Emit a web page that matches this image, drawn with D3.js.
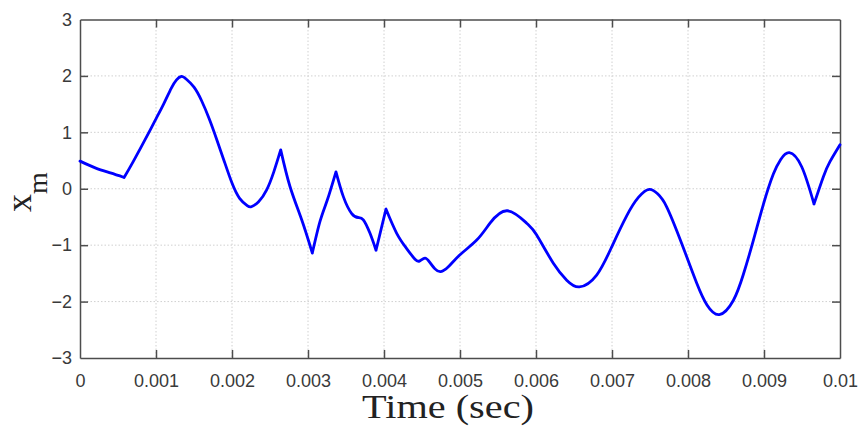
<!DOCTYPE html>
<html>
<head>
<meta charset="utf-8">
<script src="https://cdn.jsdelivr.net/npm/d3@7"></script>
<style>
  html, body { margin: 0; padding: 0; background: #fff; }
  svg { display: block; }
</style>
</head>
<body>
<svg id="chart" width="859" height="427"></svg>
<script>
// Time samples (sec) and x_m response
const timeSec = [
  0, 0.0002, 0.0004, 0.00058,
  0.0007, 0.0009, 0.001, 0.0011, 0.0012, 0.00127, 0.001333, 0.0014, 0.0015, 0.0016, 0.0017,
  0.0018, 0.0019, 0.002, 0.0021, 0.0022, 0.002254, 0.00235, 0.002456, 0.00255, 0.002641,
  0.002763, 0.002917, 0.003057,
  0.003158, 0.003254, 0.003368,
  0.003465, 0.003575, 0.003662, 0.003728, 0.003816, 0.003895,
  0.004026,
  0.004167, 0.004298, 0.004408, 0.00447, 0.004539, 0.0046, 0.004671, 0.004746, 0.00485,
  0.005, 0.00522, 0.005395, 0.005623, 0.005877, 0.006009, 0.006228, 0.006404, 0.00657,
  0.006798, 0.007, 0.007193, 0.00735, 0.007491, 0.0076, 0.007719, 0.007917, 0.008114, 0.00825,
  0.008412, 0.008596, 0.008728, 0.008859, 0.008991, 0.009123, 0.00922, 0.009333, 0.009496,
  0.009658, 0.00978, 0.009868, 0.01
];
const xmValues = [
  0.49, 0.37, 0.28, 0.20,
  0.48, 0.98, 1.24, 1.50, 1.78, 1.93, 1.99, 1.94, 1.80, 1.56, 1.24,
  0.87, 0.48, 0.10, -0.17, -0.30, -0.32, -0.23, -0.02, 0.30, 0.69,
  0.04, -0.55, -1.14,
  -0.58, -0.20, 0.30,
  -0.14, -0.44, -0.51, -0.55, -0.79, -1.09,
  -0.36,
  -0.79, -1.06, -1.25, -1.28, -1.23, -1.30, -1.42, -1.47, -1.38,
  -1.17, -0.91, -0.61, -0.39, -0.61, -0.82, -1.32, -1.62, -1.74,
  -1.53, -1.02, -0.48, -0.15, -0.01, -0.09, -0.32, -0.97, -1.67, -2.06,
  -2.23, -1.98, -1.52, -0.92, -0.28, 0.26, 0.52, 0.64, 0.39,
  -0.27, 0.21, 0.48, 0.78
];
// Sample times where the response has a sharp corner
const cornerTimes = [0.00058, 0.002641, 0.003057, 0.003368, 0.003895, 0.004026, 0.009658];

const xTicks = [0, 0.001, 0.002, 0.003, 0.004, 0.005, 0.006, 0.007, 0.008, 0.009, 0.01];
const xTickLabels = ["0", "0.001", "0.002", "0.003", "0.004", "0.005", "0.006", "0.007", "0.008", "0.009", "0.01"];
const yTicks = [-3, -2, -1, 0, 1, 2, 3];

const svg = d3.select("#chart");
const plotL = 80, plotR = 840, plotT = 19.5, plotB = 358;

const x = d3.scaleLinear().domain([0, 0.01]).range([plotL, plotR]);
const y = d3.scaleLinear().domain([-3, 3]).range([plotB, plotT]);

// Grid
const grid = svg.append("g").attr("stroke", "#d0d0d0").attr("stroke-width", 1)
  .attr("stroke-dasharray", "1.5,2");
xTicks.slice(1, -1).forEach(t => {
  grid.append("line").attr("x1", x(t)).attr("x2", x(t)).attr("y1", plotT).attr("y2", plotB);
});
yTicks.slice(1, -1).forEach(v => {
  grid.append("line").attr("x1", plotL).attr("x2", plotR).attr("y1", y(v)).attr("y2", y(v));
});

// Axes (ticks pointing inward, boxed)
const axisColor = "#4d4d4d";
const fontSans = "'Liberation Sans', Arial, sans-serif";
function styleAxis(g) {
  g.select(".domain").attr("stroke", axisColor).attr("stroke-width", 1.5);
  g.selectAll(".tick line").attr("stroke", axisColor).attr("stroke-width", 1.5);
  g.selectAll(".tick text").attr("fill", "#3a3a3a").style("font-family", fontSans).style("font-size", "18px");
}
const xAxis = svg.append("g").attr("transform", `translate(0,${plotB})`)
  .call(d3.axisBottom(x).tickValues(xTicks).tickFormat((d, i) => xTickLabels[i])
    .tickSizeInner(-8).tickSizeOuter(0).tickPadding(16));
styleAxis(xAxis);
const xAxisTop = svg.append("g").attr("transform", `translate(0,${plotT})`)
  .call(d3.axisTop(x).tickValues(xTicks).tickFormat("").tickSizeInner(-8).tickSizeOuter(0));
styleAxis(xAxisTop);
const yAxis = svg.append("g").attr("transform", `translate(${plotL},0)`)
  .call(d3.axisLeft(y).tickValues(yTicks).tickFormat(d3.format("d"))
    .tickSizeInner(-8).tickSizeOuter(0).tickPadding(8));
styleAxis(yAxis);
const yAxisRight = svg.append("g").attr("transform", `translate(${plotR},0)`)
  .call(d3.axisRight(y).tickValues(yTicks).tickFormat("").tickSizeInner(-8).tickSizeOuter(0));
styleAxis(yAxisRight);
// drop end ticks that coincide with the box corners
[xAxis, xAxisTop].forEach(g => g.selectAll(".tick line").filter(d => d === 0 || d === 0.01).remove());
[yAxis, yAxisRight].forEach(g => g.selectAll(".tick line").filter(d => d === -3 || d === 3).remove());

// Response curve: smooth pieces joined at sharp corners
const pts = timeSec.map((t, i) => [t, xmValues[i]]);
const pieces = [];
let cur = [];
pts.forEach(p => {
  cur.push(p);
  if (cornerTimes.includes(p[0])) { pieces.push(cur); cur = [p]; }
});
if (cur.length > 1) pieces.push(cur);

const line = d3.line().x(d => x(d[0])).y(d => y(d[1])).curve(d3.curveNatural);
svg.append("path")
  .attr("d", pieces.map(p => line(p)).join(""))
  .attr("fill", "none").attr("stroke", "#0000ff").attr("stroke-width", 2.8)
  .attr("stroke-linejoin", "round").attr("stroke-linecap", "round");

// Axis titles
const fontSerif = "'Liberation Serif', 'Times New Roman', serif";
svg.append("text").attr("x", 448).attr("y", 418).attr("text-anchor", "middle")
  .attr("textLength", 172).attr("lengthAdjust", "spacingAndGlyphs")
  .style("font-family", fontSerif).style("font-size", "33px").attr("fill", "#222")
  .text("Time (sec)");
const yl = svg.append("text").attr("transform", `translate(31,192) rotate(-90)`)
  .attr("text-anchor", "middle").style("font-family", fontSerif).style("font-size", "36px").attr("fill", "#222");
yl.append("tspan").text("x");
yl.append("tspan").attr("dy", 16).style("font-size", "28px").text("m");
</script>
</body>
</html>
